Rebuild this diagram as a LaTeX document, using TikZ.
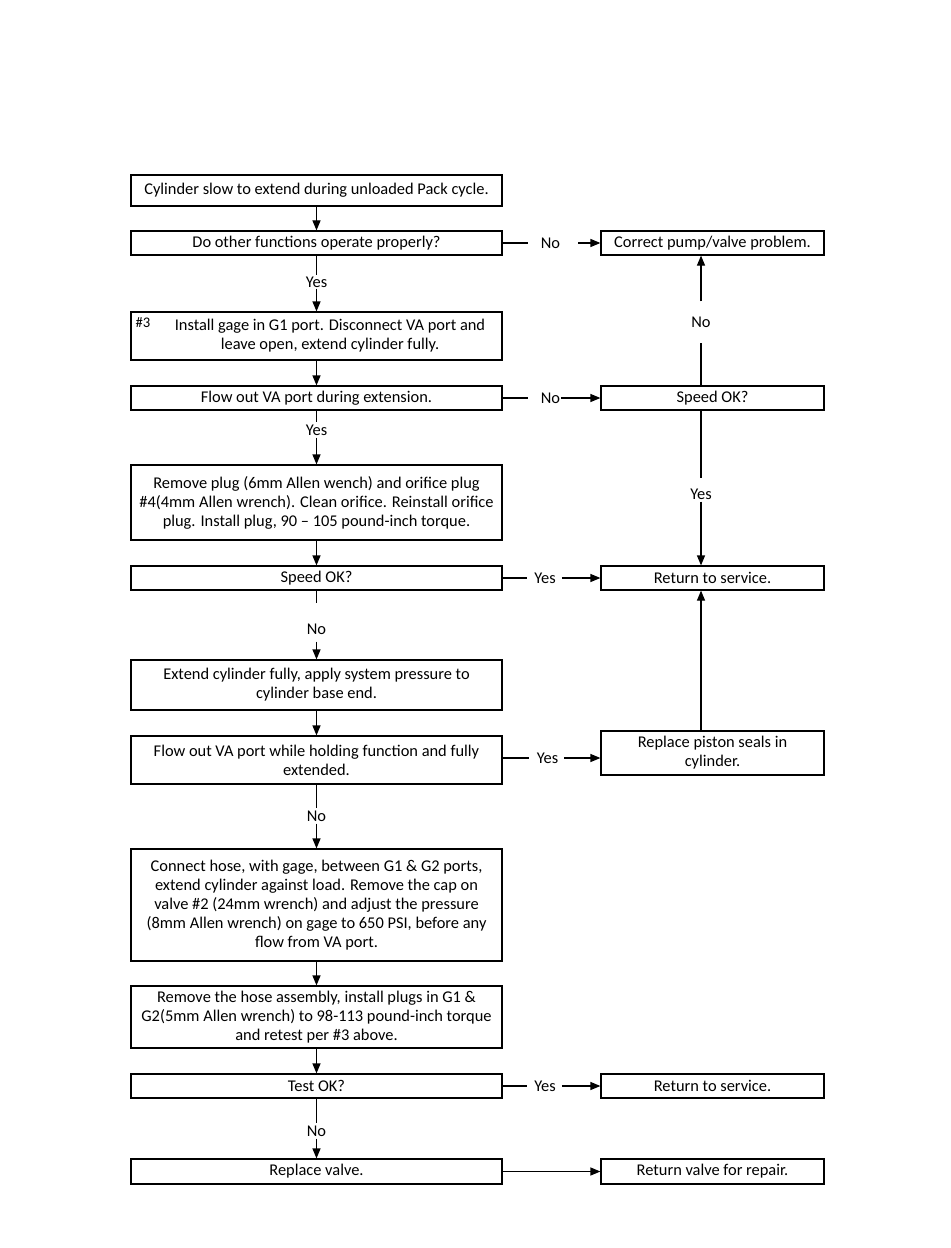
\documentclass[tikz,border=0pt]{standalone}
\usepackage{fontspec}
\setmainfont{Carlito}
\usetikzlibrary{arrows.meta}
\begin{document}
\begin{tikzpicture}[x=0.75pt,y=-0.75pt,
  box/.style={draw, line width=0.9pt, inner sep=0pt, align=center,
    font=\fontsize{12.3pt}{14.25pt}\selectfont},
  lbox/.style={box, minimum width=278.25pt},
  rbox/.style={box, minimum width=167.25pt},
  hh/.style={minimum height=#1*0.75pt},
  lbl/.style={inner sep=0pt, font=\fontsize{12.3pt}{14pt}\selectfont},
  conn/.style={line width=0.9pt},
  arr/.style={conn, -{Triangle[length=7.5pt,width=6pt]}}]
\useasboundingbox[fill=white] (0,0) rectangle (950,1248);

% left column
\node[lbox,hh=31] (b1) at (316.5,190.5) {Cylinder slow to extend during unloaded Pack cycle.};
\node[lbox,hh=24] (b2) at (316.5,243) {Do other functions operate properly?};
\node[lbox,hh=48] (b3) at (316.5,336) {};
\node[lbl, align=center, font=\fontsize{12.3pt}{14.25pt}\selectfont] (b3t) at (330,336) {Install gage in G1 port. Disconnect VA port and\\leave open, extend cylinder fully.};
\node[lbl, font=\fontsize{11pt}{12pt}\selectfont] (h3) at (143,323) {\#3};
\node[lbox,hh=24] (b4) at (316.5,398) {Flow out VA port during extension.};
\node[lbox,hh=75] (b5) at (316.5,502.5) {Remove plug (6mm Allen wench) and orifice plug\\\#4(4mm Allen wrench). Clean orifice. Reinstall orifice\\plug. Install plug, 90 -- 105 pound-inch torque.};
\node[lbox,hh=24] (b6) at (316.5,578) {Speed OK?};
\node[lbox,hh=50] (b7) at (316.5,685) {Extend cylinder fully, apply system pressure to\\cylinder base end.};
\node[lbox,hh=48] (b8) at (316.5,760) {Flow out VA port while holding function and fully\\extended.};
\node[lbox,hh=112] (b9) at (316.5,905) {Connect hose, with gage, between G1 \& G2 ports,\\extend cylinder against load. Remove the cap on\\valve \#2 (24mm wrench) and adjust the pressure\\(8mm Allen wrench) on gage to 650 PSI, before any\\flow from VA port.};
\node[lbox,hh=62] (b10) at (316.5,1017) {Remove the hose assembly, install plugs in G1 \&\\G2(5mm Allen wrench) to 98-113 pound-inch torque\\and retest per \#3 above.};
\node[lbox,hh=24] (b11) at (316.5,1086) {Test OK?};
\node[lbox,hh=25] (b12) at (316.5,1171.5) {Replace valve.};

% right column
\node[rbox,hh=24] (r1) at (712.5,243) {Correct pump/valve problem.};
\node[rbox,hh=24] (r2) at (712.5,398) {Speed OK?};
\node[rbox,hh=24] (r3) at (712.5,578) {Return to service.};
\node[rbox,hh=44] (r4) at (712.5,753) {Replace piston seals in\\cylinder.};
\node[rbox,hh=24] (r5) at (712.5,1086) {Return to service.};
\node[rbox,hh=25] (r6) at (712.5,1171.5) {Return valve for repair.};

% labels
\node[lbl] (y2) at (316.5,282) {Yes};
\node[lbl] (n1) at (550.5,243) {No};
\node[lbl] (n2) at (550.5,398) {No};
\node[lbl] (n3) at (701,322) {No};
\node[lbl] (y4) at (316.5,430) {Yes};
\node[lbl] (y5) at (701,494) {Yes};
\node[lbl] (y6) at (545,578) {Yes};
\node[lbl] (n4) at (316.5,629) {No};
\node[lbl] (y7) at (547.5,758) {Yes};
\node[lbl] (n5) at (316.5,816) {No};
\node[lbl] (y8) at (545,1086) {Yes};
\node[lbl] (n6) at (316.5,1131) {No};

% connectors
\draw[arr] (b1) -- (b2);
\draw[conn, shorten >=0.75pt] (b2) -- (y2);
\draw[arr, shorten <=0.75pt] (y2) -- (b3);
\draw[conn, shorten >=9.75pt] (b2) -- (n1);
\draw[arr, shorten <=13.5pt] (n1) -- (r1);
\draw[arr] (b3) -- (b4);
\draw[conn, shorten >=9.75pt] (b4) -- (n2);
\draw[arr, shorten <=0.75pt] (n2) -- (r2);
\draw[conn, shorten >=11.25pt] (n3 |- r2.north) -- (n3);
\draw[arr, shorten <=11.25pt] (n3) -- (n3 |- r1.south);
\draw[conn, shorten >=1.5pt] (b4) -- (y4);
\draw[arr, shorten <=1.5pt] (y4) -- (b5);
\draw[conn, shorten >=7.5pt] (y5 |- r2.south) -- (y5);
\draw[arr, shorten <=1.5pt] (y5) -- (y5 |- r3.north);
\draw[arr] (b5) -- (b6);
\draw[conn, shorten >=5.25pt] (b6) -- (y6);
\draw[arr, shorten <=4.5pt] (y6) -- (r3);
\draw[conn, shorten >=15pt] (b6) -- (n4);
\draw[arr, shorten <=5.25pt] (n4) -- (b7);
\draw[arr] (b7) -- (b8);
\draw[conn, shorten >=6pt] (b8.east |- y7) -- (y7.west);
\draw[arr, shorten <=4.5pt] (y7.east) -- (y7 -| r4.west);
\draw[arr] (r4.north -| n3) -- (r3.south -| n3);
\draw[conn, shorten >=1.5pt] (b8) -- (n5);
\draw[arr, shorten <=1.5pt] (n5) -- (b9);
\draw[arr] (b9) -- (b10);
\draw[arr] (b10) -- (b11);
\draw[conn, shorten >=5.25pt] (b11) -- (y8);
\draw[arr, shorten <=4.5pt] (y8) -- (r5);
\draw[conn, shorten >=1.5pt] (b11) -- (n6);
\draw[arr, shorten <=1.5pt] (n6) -- (b12);
\draw[arr] (b12) -- (r6);
\end{tikzpicture}
\end{document}
